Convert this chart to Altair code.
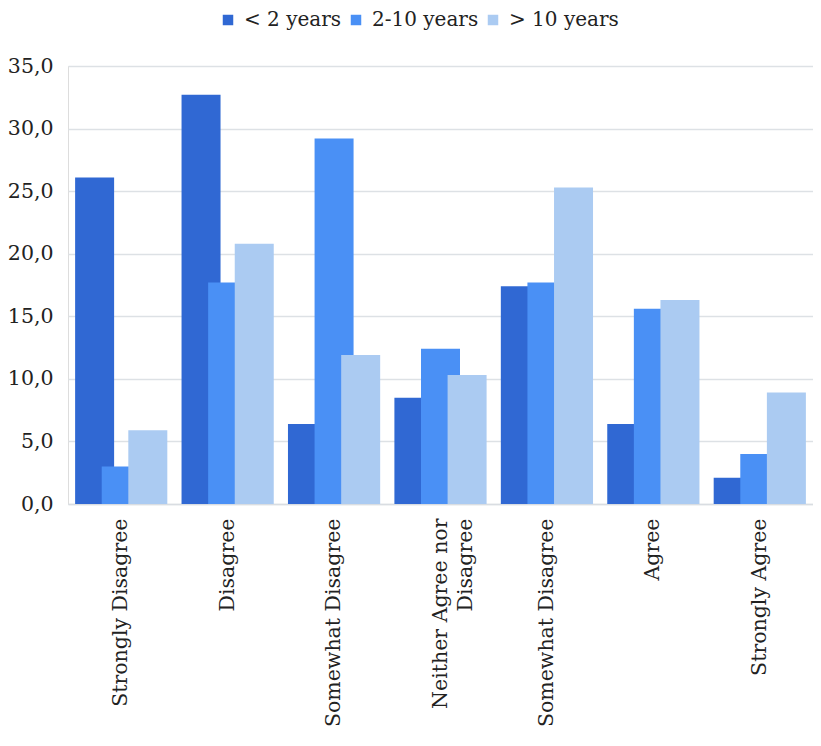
import altair as alt
import pandas as pd

categories = ["Strongly Disagree", "Disagree", "Somewhat Disagree",
              "Neither Agree nor Disagree", "Somewhat  Disagree", "Agree", "Strongly Agree"]
series = ["< 2 years", "2-10 years", "> 10 years"]
lt2 = [26.1, 32.7, 6.4, 8.5, 17.4, 6.4, 2.1]
y2_10 = [3.0, 17.7, 29.2, 12.4, 17.7, 15.6, 4.0]
gt10 = [5.9, 20.8, 11.9, 10.3, 25.3, 16.3, 8.9]
colors = ["#3068D3", "#4A90F5", "#ABCBF2"]

rows = []
for s, vals in zip(series, [lt2, y2_10, gt10]):
    for c, v in zip(categories, vals):
        rows.append({"category": c, "series": s, "value": v})
df = pd.DataFrame(rows)

FONT = "DejaVu Serif"

x = alt.X("category:N", sort=categories, title=None,
          scale=alt.Scale(paddingInner=0, paddingOuter=0),
          axis=alt.Axis(labelAngle=-90, labelAlign="right", labelBaseline="middle",
                        labelPadding=14, ticks=False, domainColor="#D9DDE2", domainWidth=1.5,
                        labelFont=FONT, labelFontSize=20.5, labelColor="#222222",
                        labelLimit=400, labelLineHeight=25,
                        labelExpr="datum.label == 'Neither Agree nor Disagree' ? ['Neither Agree nor', 'Disagree'] : datum.label"))
y = alt.Y("value:Q", title=None,
          scale=alt.Scale(domain=[0, 35], nice=False),
          axis=alt.Axis(values=[0, 5, 10, 15, 20, 25, 30, 35], ticks=False, domain=False,
                        gridColor="#DDE1E5", gridWidth=1.5, labelPadding=15,
                        labelFont=FONT, labelFontSize=20.5, labelColor="#222222",
                        labelExpr="replace(format(datum.value, '.1f'), '.', ',')"))
color = alt.Color("series:N",
                  scale=alt.Scale(domain=series, range=colors),
                  legend=alt.Legend(title=None, orient="none", legendX=150, legendY=-56,
                                    direction="horizontal", symbolType="square",
                                    symbolSize=110, symbolStrokeWidth=0, symbolOpacity=1,
                                    labelFont=FONT, labelFontSize=20, labelColor="#222222",
                                    columnPadding=4, labelOffset=6))

offsets = [-26.6, 0, 26.6]
layers = []
for s, off in zip(series, offsets):
    layers.append(
        alt.Chart(df).transform_filter(alt.datum.series == s)
        .mark_bar(width=39, xOffset=off)
        .encode(x=x, y=y, color=color)
    )

chart = alt.layer(*layers).properties(
    width=745, height=438,
    autosize=alt.AutoSizeParams(type="none"),
    padding={"left": 60, "top": 58, "right": 0, "bottom": 230},
).configure_view(stroke=None).configure(background="white")

chart.save("out.html", embed_options={"renderer": "svg", "actions": False})
